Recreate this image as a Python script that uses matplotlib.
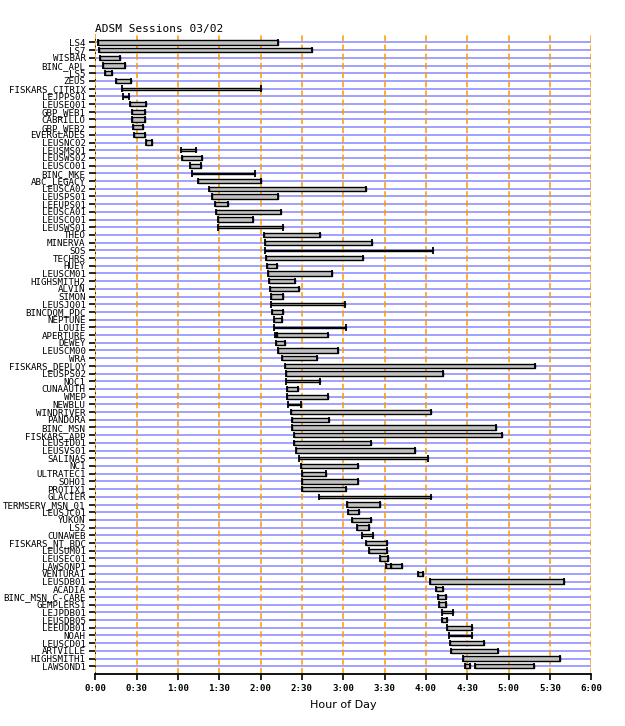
import matplotlib
matplotlib.use("Agg")
import matplotlib.pyplot as plt

# node names, top to bottom
nodes = [
    "LS4", "LS7", "WISBAR", "BINC_APL", "LS5", "ZEUS", "FISKARS_CITRIX", "LEJPPS01",
    "LEUSEQ01", "GBP_WEB1", "CABRILLO", "GBP_WEB2", "EVERGLADES", "LEUSNC02", "LEUSMS01",
    "LEUSWS02", "LEUSCO01", "BINC_MKE", "ABC_LEGACY", "LEUSCA02", "LEUSPS01", "LEEUPS01",
    "LEUSCA01", "LEUSCQ01", "LEUSWS01", "THEO", "MINERVA", "SOS", "TECHRS", "HUEY",
    "LEUSCM01", "HIGHSMITH2", "ALVIN", "SIMON", "LEUSJQ01", "BINCDOM_PDC", "NEPTUNE",
    "LOUIE", "APERTURE", "DEWEY", "LEUSCM00", "WRA", "FISKARS_DEPLOY", "LEUSPS02", "NOC1",
    "CUNAAUTH", "WMEP", "NEWBLU", "WINDRIVER", "PANDORA", "BINC_MSN", "FISKARS_APP",
    "LEUSID01", "LEUSVS01", "SALINAS", "NC1", "ULTRATEC1", "SOHO1", "PROTIX1", "GLACIER",
    "TERMSERV_MSN_01", "LEUSJC01", "YUKON", "LS2", "CUNAWEB", "FISKARS_NT_BDC", "LEUSUM01",
    "LEUSEC01", "LAWSONP1", "VENTURA1", "LEUSDB01", "ACADIA", "BINC_MSN_C-CARE",
    "GEMPLERS1", "LEJPDB01", "LEUSDB05", "LEEUDB01", "NOAH", "LEUSCD01", "ARTVILLE",
    "HIGHSMITH1", "LAWSOND1",
]

# sessions: node, start and end in minutes after midnight
sess_node = [
    "LS4", "LS7", "WISBAR", "BINC_APL", "LS5", "ZEUS", "FISKARS_CITRIX", "LEJPPS01",
    "LEUSEQ01", "GBP_WEB1", "CABRILLO", "GBP_WEB2", "EVERGLADES", "LEUSNC02", "LEUSMS01",
    "LEUSWS02", "LEUSCO01", "BINC_MKE", "ABC_LEGACY", "LEUSCA02", "LEUSPS01", "LEEUPS01",
    "LEUSCA01", "LEUSCQ01", "LEUSWS01", "THEO", "MINERVA", "SOS", "TECHRS", "HUEY",
    "LEUSCM01", "HIGHSMITH2", "ALVIN", "SIMON", "LEUSJQ01", "BINCDOM_PDC", "NEPTUNE",
    "LOUIE", "APERTURE", "APERTURE", "DEWEY", "LEUSCM00", "WRA", "FISKARS_DEPLOY",
    "LEUSPS02", "NOC1", "CUNAAUTH", "WMEP", "NEWBLU", "WINDRIVER", "PANDORA", "BINC_MSN",
    "FISKARS_APP", "LEUSID01", "LEUSVS01", "SALINAS", "NC1", "ULTRATEC1", "SOHO1",
    "PROTIX1", "GLACIER", "TERMSERV_MSN_01", "LEUSJC01", "YUKON", "LS2", "CUNAWEB",
    "FISKARS_NT_BDC", "LEUSUM01", "LEUSEC01", "LAWSONP1", "LAWSONP1", "VENTURA1",
    "LEUSDB01", "ACADIA", "BINC_MSN_C-CARE", "GEMPLERS1", "LEJPDB01", "LEUSDB05",
    "LEEUDB01", "NOAH", "LEUSCD01", "ARTVILLE", "HIGHSMITH1", "LAWSOND1", "LAWSOND1",
]
sess_start = [
    2.2, 2.9, 3.6, 5.8, 7.3, 15.2, 19.6, 20.3,
    25.4, 26.9, 26.9, 27.6, 28.3, 37.0, 62.4,
    63.1, 69.0, 70.0, 74.8, 82.8, 84.9, 87.1,
    87.8, 89.3, 89.3, 122.7, 123.4, 123.4, 124.1, 124.8,
    125.6, 126.3, 127.0, 127.7, 127.7, 128.5, 129.9,
    129.9, 130.6, 131.6, 131.4, 132.8, 135.7, 137.9,
    138.6, 138.6, 139.3, 139.3, 140.1, 142.2, 143.0, 143.0,
    144.4, 144.4, 145.9, 148.1, 149.5, 150.2, 150.2,
    150.2, 162.6, 182.9, 183.6, 186.5, 190.2, 193.8,
    196.7, 198.9, 206.8, 211.0, 214.8, 234.5,
    243.2, 247.5, 249.0, 249.7, 251.9, 251.9,
    255.5, 256.9, 257.6, 258.4, 267.1, 268.5, 275.8,
]
sess_end = [
    132.8, 157.5, 18.1, 21.8, 12.3, 26.1, 120.5, 24.7,
    37.0, 35.8, 35.8, 34.4, 36.3, 40.9, 73.3,
    77.7, 76.5, 116.2, 120.5, 196.2, 132.8, 96.5,
    135.0, 114.7, 136.4, 163.3, 201.0, 245.3, 194.5, 132.1,
    172.0, 145.2, 148.1, 136.4, 181.4, 136.4, 135.7,
    182.2, 131.6, 169.1, 137.9, 176.4, 161.1, 319.3,
    252.6, 163.3, 147.3, 169.1, 149.5, 243.9, 169.8, 291.0,
    295.4, 200.3, 232.3, 241.7, 190.9, 167.7, 190.9,
    182.2, 243.9, 206.8, 191.6, 200.3, 198.9, 201.8,
    211.9, 211.9, 212.7, 214.8, 222.4, 238.1,
    340.4, 252.6, 254.8, 254.8, 259.8, 255.5,
    273.6, 273.6, 282.3, 292.5, 337.5, 272.2, 318.6,
]
# nodes whose sessions show as a thin line
thin_nodes = [
    "FISKARS_CITRIX", "LEJPPS01", "LEUSMS01", "BINC_MKE", "LEUSWS01", "SOS",
    "LEUSJQ01", "LOUIE", "NOC1", "NEWBLU", "SALINAS", "GLACIER", "CUNAWEB",
    "LEJPDB01", "NOAH",
]

tick_min = list(range(0, 361, 30))
tick_lbl = ["%d:%02d" % (m // 60, m % 60) for m in tick_min]

fig = plt.figure(figsize=(6.25, 7.26), dpi=100)
ax = fig.add_axes([0.1525, 0.0712, 0.7936, 0.8820])

row = {n: i + 1 for i, n in enumerate(nodes)}

# blue row lines
for n in nodes:
    ax.axhline(row[n], color="#9999ff", lw=1.3, zorder=1)

# orange half-hour lines
for m in tick_min[1:]:
    ax.axvline(m, color="#ff9900", lw=1.1, ls=(0, (4, 2)), zorder=2)
ax.axvline(0, color="#ff9900", lw=1.2, zorder=2)
ax.axvline(0, color="black", lw=1.2, ls=(0, (1, 3)), zorder=2)

for n, s, e in zip(sess_node, sess_start, sess_end):
    y = row[n]
    h = 0.22 if n in thin_nodes else 0.55
    ax.barh(y, e - s, left=s, height=h, color="#c0c0c0", edgecolor="black",
            linewidth=1.0, zorder=3)
    ax.vlines([s, e], y - 0.42, y + 0.42, color="black", lw=1.3, zorder=4)

ax.set_xlim(0, 360)
ax.set_ylim(83.05, -0.1)
ax.set_yticks([row[n] for n in nodes])
ax.set_yticklabels(nodes, family="DejaVu Sans Mono", fontsize=6.6)
ax.set_xticks(tick_min)
ax.set_xticklabels(tick_lbl, family="DejaVu Sans Mono", fontsize=6.6, weight="bold")
ax.tick_params(axis="y", length=4, width=1.2, pad=3)
ax.tick_params(axis="x", length=4, width=1.2, pad=3)
for side in ["top", "right", "left"]:
    ax.spines[side].set_visible(False)
ax.spines["bottom"].set_linewidth(1.3)

ax.set_xlabel("Hour of Day", fontsize=8, labelpad=5)
fig.text(0.1525, 0.953, "ADSM Sessions 03/02", family="DejaVu Sans Mono",
         fontsize=8, va="bottom")

fig.savefig("out.png", dpi=100)
